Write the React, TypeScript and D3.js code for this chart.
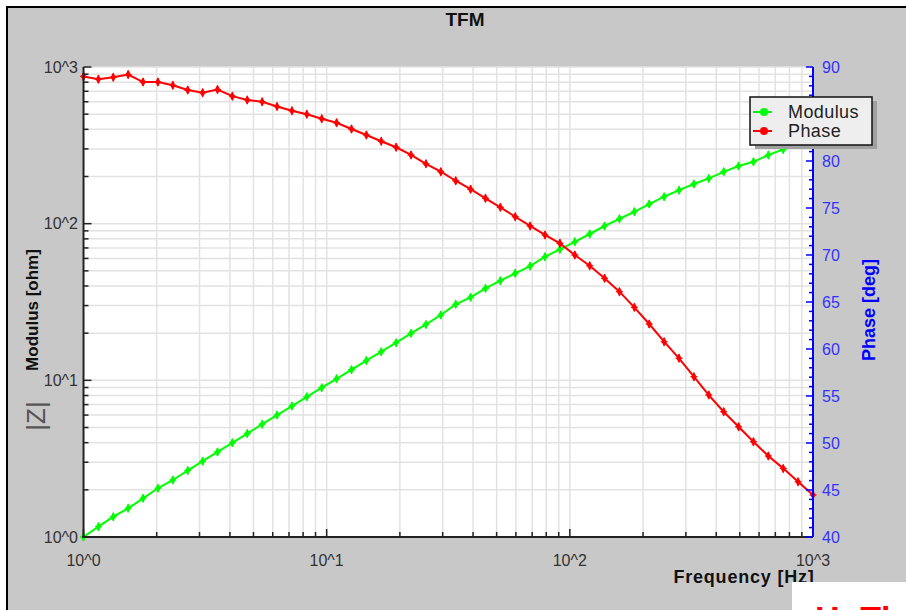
import React from "react";
import * as d3 from "d3";

const freq = [
  1, 1.1514, 1.3257, 1.5264, 1.7575, 2.0236, 2.33, 2.6827, 3.0889, 3.5565,
  4.0949, 4.7149, 5.4287, 6.2506, 7.1969, 8.2864, 9.541, 10.985, 12.649, 14.563,
  16.768, 19.307, 22.23, 25.595, 29.471, 33.932, 39.069, 44.984, 51.795, 59.636,
  68.665, 79.06, 91.029, 104.81, 120.68, 138.95, 159.99, 184.2, 212.09, 244.2,
  281.17, 323.74, 372.76, 429.19, 494.17, 568.98, 655.13, 754.31, 868.51, 1000,
];

const modulus = [
  1.0, 1.164, 1.349, 1.524, 1.766, 2.046, 2.312, 2.655, 3.048, 3.491,
  3.99, 4.571, 5.248, 5.998, 6.855, 7.852, 8.974, 10.23, 11.7, 13.37,
  15.24, 17.38, 19.95, 22.75, 26.12, 30.55, 33.88, 38.64, 43.25, 48.19,
  53.58, 61.52, 68.55, 76.56, 85.9, 96.61, 107.4, 119.1, 133.4, 148.6,
  163.7, 179.1, 194.5, 214.3, 233.3, 248.3, 274.2, 297.9, 325.1, 354.8,
];

const phase = [
  89.0, 88.7, 88.9, 89.2, 88.4, 88.4, 88.05, 87.55, 87.27, 87.6,
  86.9, 86.5, 86.3, 85.8, 85.35, 84.97, 84.5, 84.07, 83.4, 82.77,
  82.1, 81.46, 80.64, 79.7, 78.86, 77.9, 77.0, 76.03, 75.07, 74.07,
  73.09, 72.13, 71.24, 70.0, 68.86, 67.52, 66.1, 64.43, 62.66, 60.78,
  59.01, 57.05, 55.1, 53.33, 51.73, 50.14, 48.62, 47.3, 45.88, 44.47,
];

const decadeLabels = ["10^0", "10^1", "10^2", "10^3"];
const phaseTicks = [40, 45, 50, 55, 60, 65, 70, 75, 80, 85, 90];
const seriesNames = ["Modulus", "Phase"];
const seriesColors = ["#00ff00", "#ff0000"];

const FONT = "'Liberation Sans', Arial, sans-serif";

export default function App() {
  const L = 83.5, R = 813, T = 67, B = 537;
  const x = d3.scaleLog().domain([1, 1000]).range([L, R]);
  const yL = d3.scaleLog().domain([1, 1000]).range([B, T]);
  const yR = d3.scaleLinear().domain([40, 90]).range([B, T]);

  const logTicks = x.ticks();
  const isMajor = (v: number) => Math.abs(Math.log10(v) - Math.round(Math.log10(v))) < 1e-9;
  const minorPhase = d3.range(40, 91, 1);

  const modLine = d3.line<number>().x((_, i) => x(freq[i])).y((d) => yL(d))(modulus) || "";
  const phLine = d3.line<number>().x((_, i) => x(freq[i])).y((d) => yR(d))(phase) || "";
  const diamond = d3.symbol().type(d3.symbolDiamond).size(26)() || "";

  const marker = (cx: number, cy: number, color: string, key: string) => (
    <g key={key} transform={`translate(${cx},${cy})`}>
      <path d={diamond} fill={color} />
      <line x1={0} x2={0} y1={-4} y2={4} stroke={color} strokeWidth={1.5} />
      <line x1={-3.5} x2={3.5} y1={0} y2={0} stroke={color} strokeWidth={1.2} />
    </g>
  );

  return (
    <svg
      width={906}
      height={610}
      style={{ position: "absolute", left: 0, top: 0, background: "#fff" }}
      fontFamily={FONT}
    >
      <rect x={0} y={0} width={906} height={610} fill="#ffffff" />
      <rect x={7} y={7} width={1000} height={700} fill="#c8c8c8" stroke="#000" strokeWidth={2} />

      {/* title */}
      <text x={465} y={26} textAnchor="middle" fontWeight="bold" fontSize={19} fill="#111">TFM</text>

      {/* plot area */}
      <rect x={L} y={T} width={R - L} height={B - T} fill="#ffffff" />

      {/* grid */}
      <g stroke="#e2e2e2" strokeWidth={1.5}>
        {logTicks.map((v) => (
          <line key={"gx" + v} x1={x(v)} x2={x(v)} y1={T} y2={B} />
        ))}
        {logTicks.map((v) => (
          <line key={"gy" + v} x1={L} x2={R} y1={yL(v)} y2={yL(v)} />
        ))}
      </g>

      {/* series */}
      <path d={modLine} fill="none" stroke={seriesColors[0]} strokeWidth={2} />
      {modulus.map((d, i) => marker(x(freq[i]), yL(d), seriesColors[0], "m" + i))}
      <path d={phLine} fill="none" stroke={seriesColors[1]} strokeWidth={2} />
      {phase.map((d, i) => marker(x(freq[i]), yR(d), seriesColors[1], "p" + i))}

      {/* left axis */}
      <line x1={L} x2={L} y1={T} y2={B + 1} stroke="#222" strokeWidth={2} />
      {logTicks.map((v) => (
        <line key={"lt" + v} x1={L} x2={L + (isMajor(v) ? 8 : 5)} y1={yL(v)} y2={yL(v)} stroke="#222" strokeWidth={1.5} />
      ))}
      {[1, 10, 100, 1000].map((v, i) => (
        <text key={"ll" + v} x={78} y={yL(v)} dy="0.36em" textAnchor="end" fontSize={16} fill="#333">
          {decadeLabels[i]}
        </text>
      ))}

      {/* bottom axis */}
      <line x1={L - 1} x2={R} y1={B} y2={B} stroke="#222" strokeWidth={2} />
      {logTicks.map((v) => (
        <line key={"bt" + v} x1={x(v)} x2={x(v)} y1={B} y2={B - (isMajor(v) ? 8 : 5)} stroke="#222" strokeWidth={1.5} />
      ))}
      {[1, 10, 100, 1000].map((v, i) => (
        <text key={"bl" + v} x={x(v)} y={566} textAnchor="middle" fontSize={16} fill="#333">
          {decadeLabels[i]}
        </text>
      ))}

      {/* right axis */}
      <line x1={R} x2={R} y1={T} y2={B} stroke="#0000ff" strokeWidth={2} />
      {minorPhase.map((v) => (
        <line key={"rt" + v} x1={R} x2={R - (v % 5 === 0 ? 7 : 4)} y1={yR(v)} y2={yR(v)} stroke="#0000ff" strokeWidth={1.5} />
      ))}
      {phaseTicks.map((v) => (
        <text key={"rl" + v} x={822} y={yR(v)} dy="0.36em" fontSize={16} fill="#3333ff">
          {v}
        </text>
      ))}

      {/* axis titles */}
      <text x={744} y={583} textAnchor="middle" fontWeight="bold" fontSize={18} letterSpacing={0.8} fill="#111">
        Frequency [Hz]
      </text>
      <text transform="translate(875,310) rotate(-90)" textAnchor="middle" fontWeight="bold" fontSize={18} fill="#0000ff">
        Phase [deg]
      </text>
      <text transform="translate(38,310) rotate(-90)" textAnchor="middle" fontWeight="bold" fontSize={17} fill="#111">
        Modulus [ohm]
      </text>
      <text transform="translate(45,416) rotate(-90)" textAnchor="middle" fontSize={26} fill="#555">
        |Z|
      </text>

      {/* legend */}
      <rect x={755} y={101} width={122} height={48} fill="#a0a0a0" />
      <rect x={750} y={97} width={122} height={48} fill="#eeeeee" stroke="#111" strokeWidth={1.5} />
      {seriesNames.map((n, i) => (
        <g key={n}>
          <line x1={753} x2={772} y1={112 + i * 19} y2={112 + i * 19} stroke={seriesColors[i]} strokeWidth={2} />
          <circle cx={764} cy={112 + i * 19} r={4} fill={seriesColors[i]} />
          <text x={788} y={112 + i * 19} dy="0.36em" fontSize={18} letterSpacing={0.4} fill="#222">{n}</text>
        </g>
      ))}

      {/* cropped overlay at bottom right */}
      <rect x={792} y={582} width={120} height={40} fill="#ffffff" />
      <text x={815} y={630} fontSize={34} fontWeight="bold" fill="#ff0000">H: Th</text>
    </svg>
  );
}
